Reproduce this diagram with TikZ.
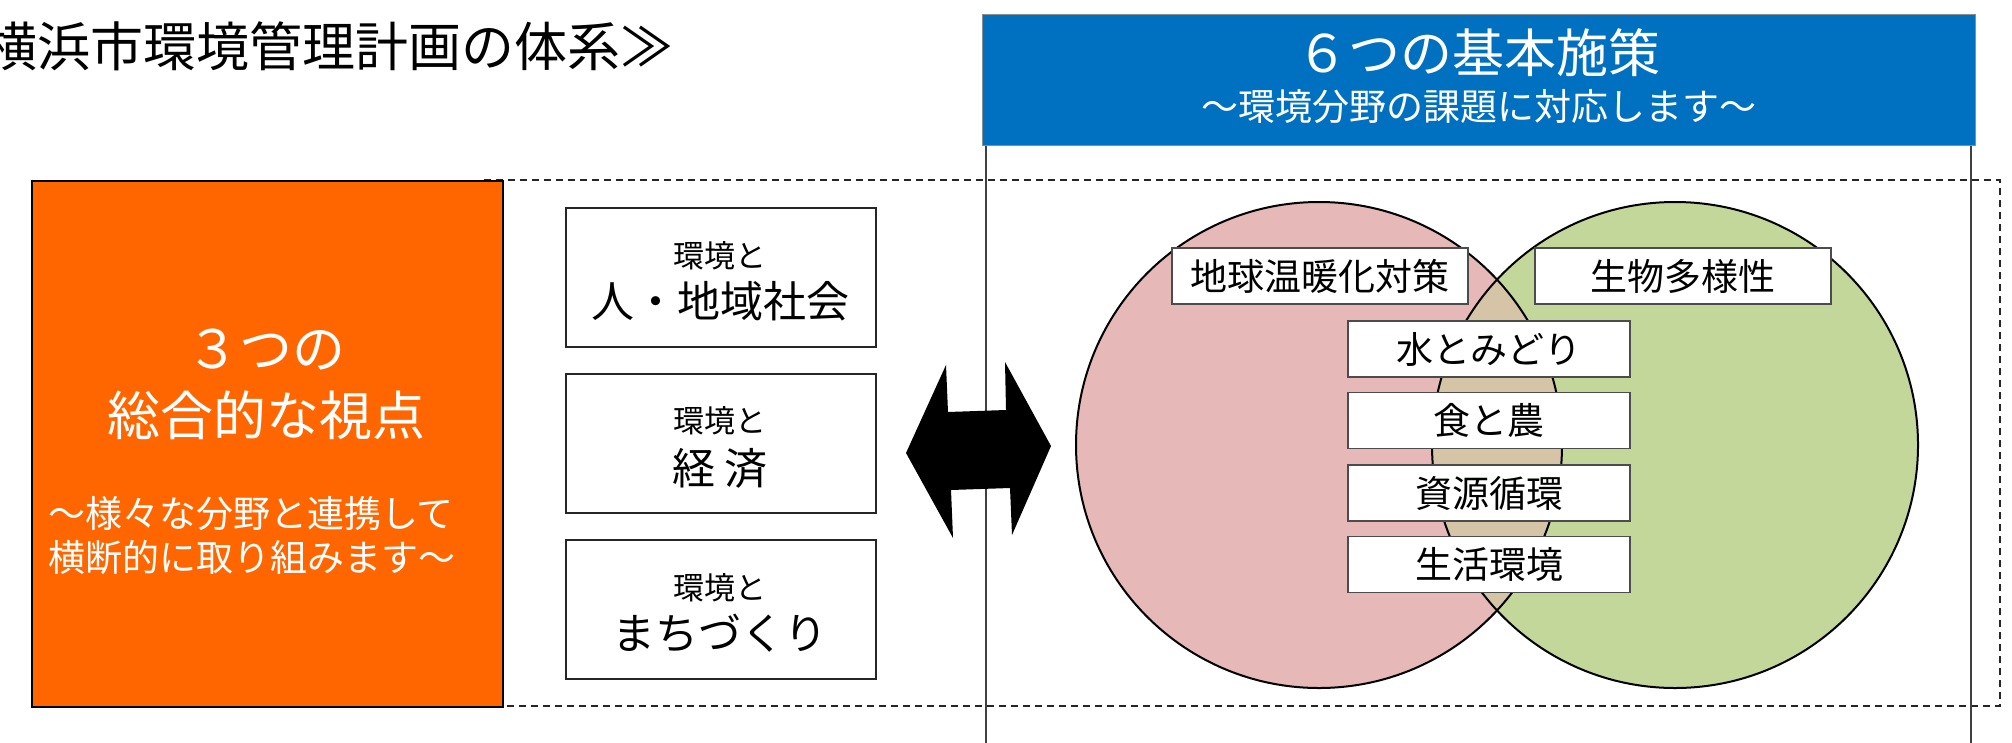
\documentclass[tikz,border=0pt]{standalone}
\usepackage{fontspec}
\setmainfont{Noto Sans CJK JP}
\definecolor{orng}{HTML}{FF6600}
\definecolor{blu}{HTML}{0070C0}
\definecolor{pinkc}{HTML}{E6B8B7}
\definecolor{greenc}{HTML}{C4D79B}
\definecolor{tanc}{HTML}{D5C4A5}
\newcommand\fsz[1]{\fontsize{#1pt}{#1pt}\selectfont}
\begin{document}
\begin{tikzpicture}[x=1pt,y=-1pt,
  txt/.style={inner sep=0pt, anchor=center},
  wtxt/.style={inner sep=0pt, anchor=center, text=white},
  sidebox/.style={draw=black!85, line width=2.2pt, fill=white, minimum width=310pt, minimum height=139pt, inner sep=0pt},
  vennbox/.style={draw=black!70, line width=1.6pt, fill=white, minimum height=56pt, inner sep=0pt, font=\fsz{37}},
  dashframe/.style={draw=black!85, line width=2pt, dash pattern=on 7pt off 5pt},
  colline/.style={draw=black!75, line width=2pt},
]
\useasboundingbox (0,0) rectangle (2012,742);
\fill[white] (0,0) rectangle (2012,742);

% title
\node[inner sep=0pt, anchor=west, font=\fsz{53}] (title) at (-15.5,46) {横浜市環境管理計画の体系≫};

% dashed frame
\draw[dashframe] (481,180) rectangle (2000,706);

% column lines and blue header
\draw[colline] (986,145) -- (986,745);
\draw[colline] (1971,145) -- (1971,745);
\node[draw=black!45, line width=1pt, fill=blu, minimum width=993pt, minimum height=131pt, inner sep=0pt, anchor=north west] (header) at (982,14) {};
\node[wtxt, font=\fsz{52}] (htitle) at (1478,53) {６つの基本施策};
\node[wtxt, font=\fsz{37}] (hsub) at (1479,107) {～環境分野の課題に対応します～};

% orange box
\node[draw=black, line width=2pt, fill=orng, minimum width=471pt, minimum height=526pt, inner sep=0pt, anchor=north west] (orange) at (31,180) {};
\node[wtxt, font=\fsz{53}] (o1) at (266,350) {３つの};
\node[wtxt, font=\fsz{53}] (o2) at (266,415) {総合的な視点};
\node[wtxt, font=\fsz{37}] (o3) at (251,514) {～様々な分野と連携して};
\node[wtxt, font=\fsz{37}] (o4) at (252,558) {横断的に取り組みます～};

% three boxes
\node[sidebox] (b1) at (721,277.5) {};
\node[sidebox] (b2) at (721,443.5) {};
\node[sidebox] (b3) at (721,609.5) {};
\node[txt, font=\fsz{31}] (b1a) at (720,256) {環境と};
\node[txt, font=\fsz{43}] (b1b) at (720,301) {人・地域社会};
\node[txt, font=\fsz{31}] (b2a) at (720,421) {環境と};
\node[txt, font=\fsz{43}] (b2b) at (720,468) {経 済};
\node[txt, font=\fsz{31}] (b3a) at (720,588) {環境と};
\node[txt, font=\fsz{43}] (b3b) at (720,633) {まちづくり};

% double arrow
\fill[black] (906,453) -- (946,365) -- (948,412) -- (1006,410) -- (1005,362)
  -- (1051,446) -- (1012,535) -- (1010,488) -- (951,490) -- (953,538) -- cycle;

% venn
\fill[pinkc] (1319,445) circle (243);
\fill[greenc] (1675,445) circle (243);
\begin{scope}
  \clip (1319,445) circle (243);
  \fill[tanc] (1675,445) circle (243);
\end{scope}
\draw[black, line width=2pt] (1319,445) circle (243);
\draw[black, line width=2pt] (1675,445) circle (243);

\node[vennbox, minimum width=296pt] (v1) at (1320,276) {地球温暖化対策};
\node[vennbox, minimum width=296pt] (v2) at (1683,276) {生物多様性};
\node[vennbox, minimum width=282pt] (v3) at (1489,349) {水とみどり};
\node[vennbox, minimum width=282pt] (v4) at (1489,420.5) {食と農};
\node[vennbox, minimum width=282pt] (v5) at (1489,493) {資源循環};
\node[vennbox, minimum width=282pt] (v6) at (1489,564.5) {生活環境};
\end{tikzpicture}
\end{document}
